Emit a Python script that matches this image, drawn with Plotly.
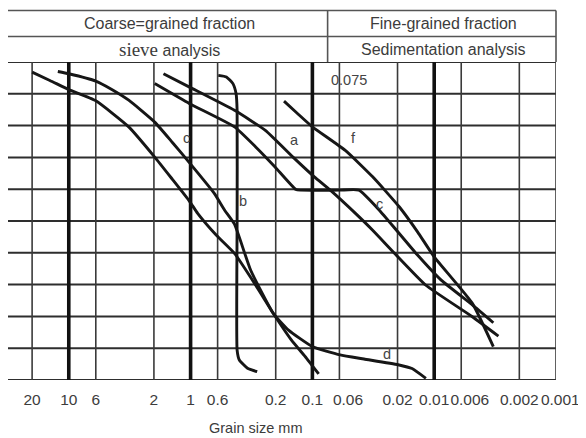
import math
import plotly.graph_objects as go

# ---------------- data ----------------
tick_sizes = [20, 10, 6, 2, 1, 0.6, 0.2, 0.1, 0.06, 0.02, 0.01, 0.006, 0.002, 0.001]
tick_text = ["20", "10", "6", "2", "1", "0.6", "0.2", "0.1", "\u2007\u20070.06", "0.02", "0.01",
             "\u2007\u20070.006", "0.002", "\u20070.001"]
thick_sizes = [10, 1, 0.1, 0.01]
pct_levels = [0, 10, 20, 30, 40, 50, 60, 70, 80, 90, 100]

# curve starting at 20 mm (steep end near 0.1 mm)
c1_d = [20, 14.3, 10, 6, 3.22, 1.97, 1.41, 1.02, 0.875, 0.614, 0.436, 0.292, 0.209, 0.149, 0.112, 0.0888]
c1_p = [96.8, 94.2, 91.3, 87.8, 79.6, 70.1, 63.1, 56.2, 52.4, 45.5, 39.8, 29.8, 20.9, 12.6, 6.9, 1.9]

# curve "c" (left) continuing into curve "d"
c2_d = [12.3, 10, 6, 4.40, 3.22, 1.97, 1.41, 1.02, 0.639, 0.525, 0.436, 0.321, 0.209, 0.157, 0.1, 0.0592, 0.0377, 0.0198, 0.0152, 0.0117]
c2_p = [97.0, 96.3, 94.0, 91.3, 88.0, 81.1, 74.7, 68.3, 58.7, 53.4, 49.0, 34.5, 20.9, 15.7, 10.5, 7.9, 6.6, 4.8, 3.6, 0.5]

# curve "b"
b_d = [0.592, 0.508, 0.449, 0.423, 0.415, 0.415, 0.415, 0.398, 0.341, 0.284]
b_p = [95.8, 95.3, 93.2, 90.0, 84.8, 50.0, 9.4, 6.3, 3.7, 2.6]

# curve "a"
a_d = [1.67, 1.02, 0.436, 0.2434, 0.1443, 0.0964, 0.0713, 0.0443, 0.032, 0.0211, 0.0117, 0.00486, 0.00297]
a_p = [96.3, 92.1, 84.8, 78.5, 70.1, 63.9, 59.7, 52.4, 47.1, 39.8, 29.8, 19.9, 13.8]

# curve "c" (right, with plateau)
c3_d = [1.97, 1.02, 0.436, 0.292, 0.2026, 0.1365, 0.125, 0.06, 0.0415, 0.0282, 0.0204, 0.0137, 0.00876, 0.00486, 0.00327]
c3_p = [93.2, 86.9, 79.6, 73.3, 67.0, 59.9, 59.7, 59.7, 59.7, 53.4, 47.1, 39.3, 31.4, 23.6, 18.0]

# curve "f"
f_d = [0.171, 0.1326, 0.1, 0.0537, 0.032, 0.0193, 0.0137, 0.01, 0.00486, 0.00327]
f_p = [87.7, 83.8, 79.6, 72.2, 63.9, 54.4, 46.6, 38.7, 24.1, 10.5]

curves = [(c1_d, c1_p), (c2_d, c2_p), (b_d, b_p), (a_d, a_p), (c3_d, c3_p), (f_d, f_p)]

# ---------------- figure ----------------
fig = go.Figure()
for d, p in curves:
    fig.add_trace(go.Scatter(x=d, y=p, mode="lines",
                             line=dict(color="#161616", width=2.9, shape="spline", smoothing=0.45),
                             showlegend=False, hoverinfo="skip"))

shapes = []
for v in pct_levels:
    shapes.append(dict(type="line", xref="paper", yref="y", x0=0, x1=1, y0=v, y1=v,
                       line=dict(color="#2e2e2e", width=2), layer="below"))
for s in tick_sizes:
    thick = s in thick_sizes
    shapes.append(dict(type="line", xref="x", yref="y", x0=s, x1=s, y0=0, y1=100,
                       line=dict(color="#111111" if thick else "#3a3a3a", width=3.6 if thick else 1.6),
                       layer="below"))
hdr_top = 1.162
hdr_mid = 1.0804
hdr_line = dict(color="#555555", width=1.6)
shapes.append(dict(type="line", xref="paper", yref="paper", x0=0, x1=1, y0=hdr_top, y1=hdr_top, line=hdr_line))
shapes.append(dict(type="line", xref="paper", yref="paper", x0=0, x1=1, y0=hdr_mid, y1=hdr_mid, line=hdr_line))
shapes.append(dict(type="line", xref="paper", yref="paper", x0=1, x1=1, y0=1, y1=hdr_top, line=hdr_line))
shapes.append(dict(type="line", xref="x", yref="paper", x0=0.075, x1=0.075, y0=1, y1=hdr_top, line=hdr_line))

sans = "Liberation Sans, Arial, sans-serif"
txt = dict(family=sans, size=16, color="#3c3c3c")
annotations = [
    dict(text="Coarse=grained fraction", xref="paper", yref="paper", x=0.295, y=1.121,
         showarrow=False, font=txt, xanchor="center", yanchor="middle"),
    dict(text="Fine-grained fraction", xref="paper", yref="paper", x=0.794, y=1.121,
         showarrow=False, font=txt, xanchor="center", yanchor="middle"),
    dict(text='<span style="font-family:Liberation Serif, Times New Roman, serif;font-size:19px">sieve</span> analysis',
         xref="paper", yref="paper", x=0.295, y=1.040,
         showarrow=False, font=txt, xanchor="center", yanchor="middle"),
    dict(text="Sedimentation analysis", xref="paper", yref="paper", x=0.794, y=1.040,
         showarrow=False, font=txt, xanchor="center", yanchor="middle"),
    dict(text="Grain size mm", xref="paper", yref="paper", x=0.451, y=-0.151,
         showarrow=False, font=dict(family=sans, size=14.5, color="#3c3c3c"),
         xanchor="center", yanchor="middle"),
]
lab_font = dict(family=sans, size=14.5, color="#444444")
labels = [("c", 1.09, 76.0), ("b", 0.371, 56.2), ("a", 0.139, 75.4), ("f", 0.0464, 76.0),
          ("c", 0.0279, 55.3), ("d", 0.0244, 8.2), ("0.075", 0.050, 94.2)]
for t, x, y in labels:
    annotations.append(dict(text=t, x=math.log10(x), y=y, xref="x", yref="y", showarrow=False,
                            font=lab_font, xanchor="center", yanchor="middle"))

# page body has an 8px default margin, so the figure is 8px smaller and margins shifted
fig.update_layout(
    width=578, height=430,
    margin=dict(l=0, r=30, t=54, b=58),
    paper_bgcolor="white", plot_bgcolor="white",
    shapes=shapes, annotations=annotations,
    xaxis=dict(type="log", range=[1.499, -3], tickvals=tick_sizes, ticktext=tick_text,
               showgrid=False, zeroline=False, showline=False, ticks="", tickangle=0,
               ticklabelstandoff=8,
               tickfont=dict(family=sans, size=15.5, color="#3c3c3c")),
    yaxis=dict(range=[0, 100], showgrid=False, zeroline=False, showline=False,
               showticklabels=False, ticks=""),
)

fig.write_html("out.html")
